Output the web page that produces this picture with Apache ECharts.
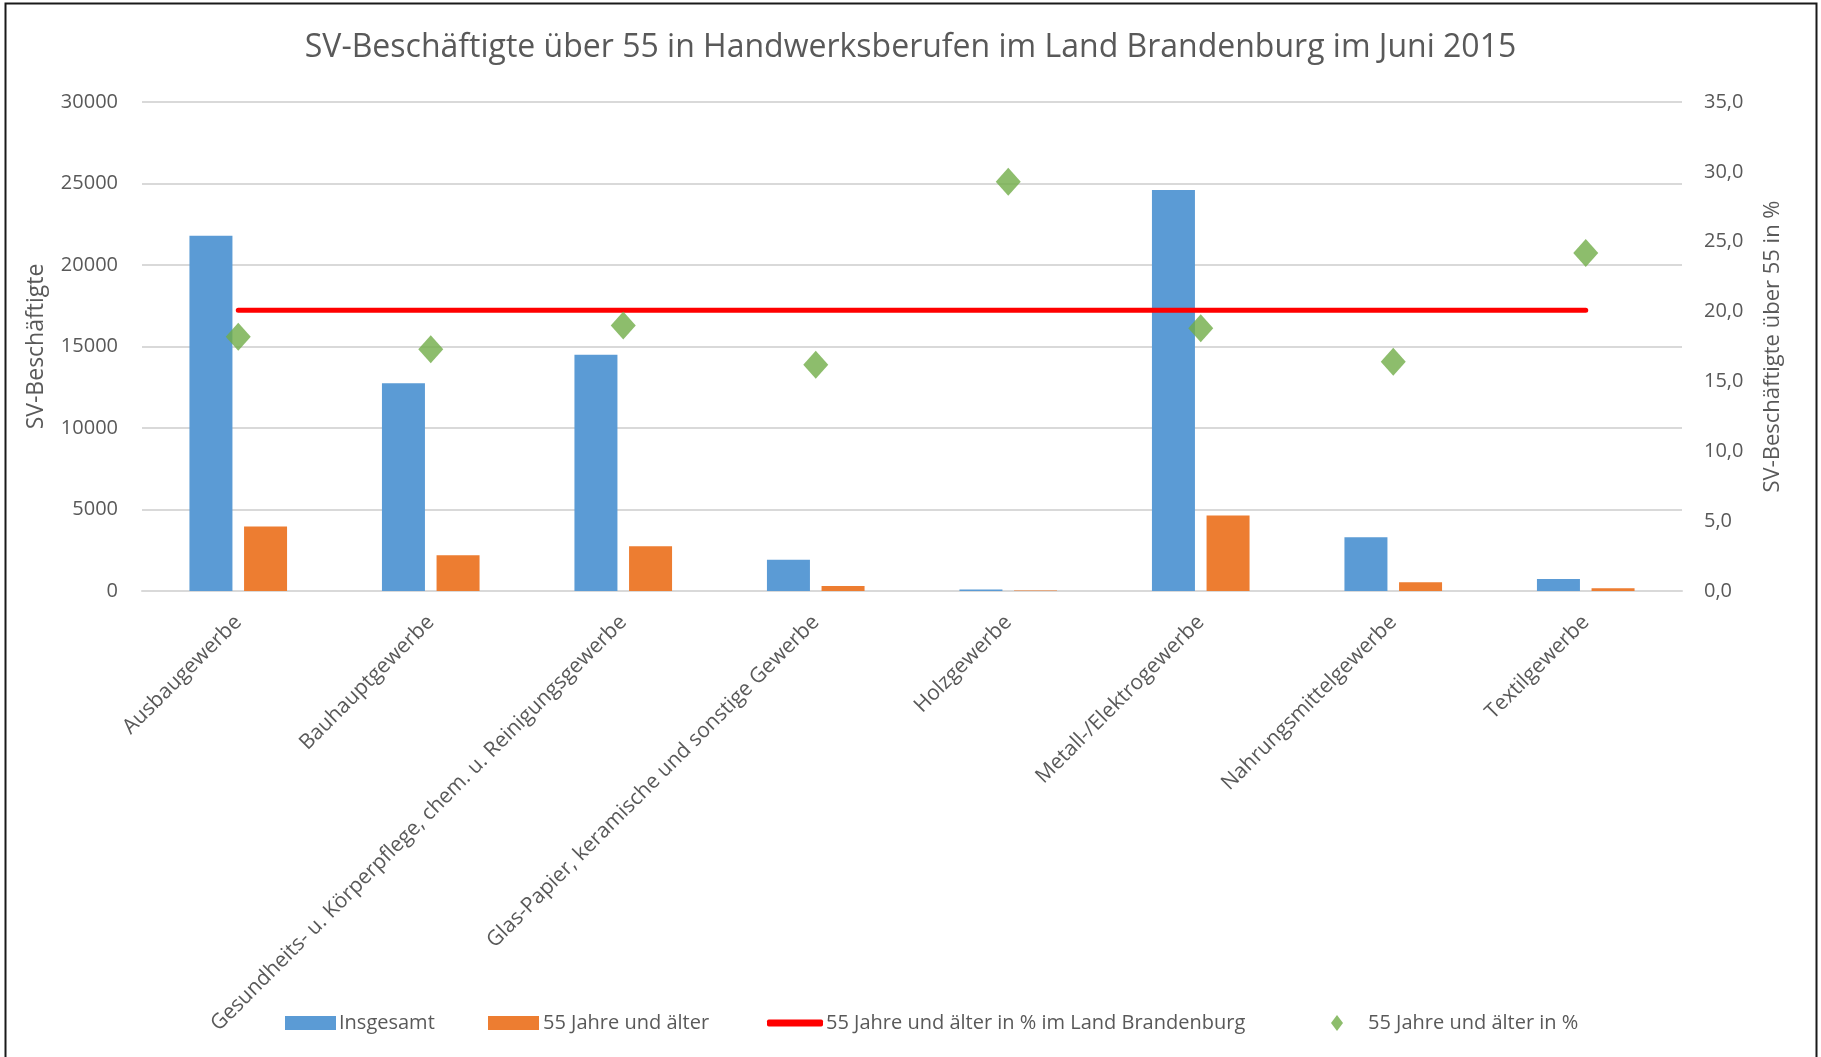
<!DOCTYPE html>
<html>
<head>
<meta charset="utf-8">
<script src="https://cdn.jsdelivr.net/npm/echarts@6/dist/echarts.min.js"></script>
<style>
  html, body { margin: 0; padding: 0; background: #fff; }
  #chart { width: 1821px; height: 1057px; }
</style>
</head>
<body>
<div id="chart"></div>
<script>
// Daten
const kategorien = [
  "Ausbaugewerbe",
  "Bauhauptgewerbe",
  "Gesundheits- u. Körperpflege, chem. u. Reinigungsgewerbe",
  "Glas-Papier, keramische und sonstige Gewerbe",
  "Holzgewerbe",
  "Metall-/Elektrogewerbe",
  "Nahrungsmittelgewerbe",
  "Textilgewerbe"
];
const insgesamt = [21790, 12740, 14500, 1920, 85, 24600, 3290, 730];
const ueber55 = [3950, 2190, 2750, 300, 25, 4630, 540, 170];
const landBrandenburg = [20.1, 20.1, 20.1, 20.1, 20.1, 20.1, 20.1, 20.1];
const anteilProzent = [18.2, 17.3, 19.0, 16.2, 29.3, 18.8, 16.4, 24.2];

const grau = "#595959";
const schrift = "'Open Sans', 'Noto Sans', sans-serif";

let mychart = echarts.init(document.getElementById("chart"));
mychart.setOption({
  animation: false,
  textStyle: { fontFamily: schrift, color: grau },
  title: {
    text: "SV-Beschäftigte über 55 in Handwerksberufen im Land Brandenburg im Juni 2015",
    left: "center",
    top: 27,
    textStyle: { fontFamily: schrift, fontSize: 32, fontWeight: "normal", color: grau }
  },
  graphic: [
    {
      // Rahmen
      type: "rect",
      shape: { x: 5.5, y: 3.5, width: 1811, height: 1070 },
      style: { fill: "none", stroke: "#1a1a1a", lineWidth: 2 },
      silent: true
    }
  ],
  legend: [
    {
      left: 280, top: 1008,
      itemWidth: 51, itemHeight: 14,
      icon: "rect",
      textStyle: { fontSize: 20, color: grau, padding: [0, 0, 0, -2] },
      data: ["Insgesamt"]
    },
    {
      left: 483, top: 1008,
      itemWidth: 51, itemHeight: 14,
      icon: "rect",
      textStyle: { fontSize: 20, color: grau, padding: [0, 0, 0, -1] },
      data: ["55 Jahre und älter"]
    },
    {
      left: 762, top: 1008,
      itemWidth: 56, itemHeight: 7,
      icon: "roundRect",
      textStyle: { fontSize: 20, color: grau, padding: [0, 0, 0, -2] },
      data: ["55 Jahre und älter in % im Land Brandenburg"]
    },
    {
      left: 1326, top: 1008,
      itemWidth: 12, itemHeight: 16,
      icon: "diamond",
      textStyle: { fontSize: 20, color: grau, padding: [0, 0, 0, 20] },
      data: ["55 Jahre und älter in %"]
    }
  ],
  grid: {
    left: 142,
    right: 139,
    top: 102,
    bottom: 466,
    containLabel: false,
    outerBoundsMode: "none"
  },
  xAxis: {
    type: "category",
    data: kategorien,
    boundaryGap: true,
    axisLine: { show: true, lineStyle: { color: "#d9d9d9", width: 2 } },
    axisTick: { show: false },
    axisLabel: {
      interval: 0,
      rotate: 45,
      margin: 28,
      fontSize: 21,
      color: grau,
      fontFamily: schrift
    }
  },
  yAxis: [
    {
      type: "value",
      min: 0,
      max: 30000,
      interval: 5000,
      name: "SV-Beschäftigte",
      nameLocation: "middle",
      nameRotate: 90,
      nameGap: 94,
      nameTextStyle: { fontSize: 23, color: grau, fontFamily: schrift },
      axisLine: { show: false },
      axisTick: { show: false },
      axisLabel: { fontSize: 20, color: grau, margin: 24, formatter: v => String(v) },
      splitLine: { lineStyle: { color: "#d9d9d9", width: 2 } }
    },
    {
      type: "value",
      min: 0,
      max: 35,
      interval: 5,
      position: "right",
      name: "SV-Beschäftigte über 55 in %",
      nameLocation: "middle",
      nameRotate: 90,
      nameGap: 80,
      nameTextStyle: { fontSize: 22, color: grau, fontFamily: schrift },
      axisLine: { show: false },
      axisTick: { show: false },
      axisLabel: {
        fontSize: 20,
        color: grau,
        margin: 22,
        formatter: v => v.toFixed(1).replace(".", ",")
      },
      splitLine: { show: false }
    }
  ],
  series: [
    {
      name: "Insgesamt",
      type: "bar",
      data: insgesamt,
      barWidth: 43,
      barGap: "27%",
      itemStyle: { color: "#5b9bd5" }
    },
    {
      name: "55 Jahre und älter",
      type: "bar",
      data: ueber55,
      barWidth: 43,
      barGap: "27%",
      itemStyle: { color: "#ed7d31" }
    },
    {
      name: "55 Jahre und älter in % im Land Brandenburg",
      type: "line",
      yAxisIndex: 1,
      data: landBrandenburg,
      symbol: "none",
      lineStyle: { color: "#ff0000", width: 5, cap: "round" },
      itemStyle: { color: "#ff0000" },
      z: 3
    },
    {
      name: "55 Jahre und älter in %",
      type: "scatter",
      yAxisIndex: 1,
      data: anteilProzent,
      symbol: "diamond",
      symbolSize: [25, 28],
      itemStyle: { color: "#70ad47" },
      z: 4
    }
  ]
});
window.addEventListener("resize", () => {
  mychart.resize();
});
</script>
</body>
</html>
